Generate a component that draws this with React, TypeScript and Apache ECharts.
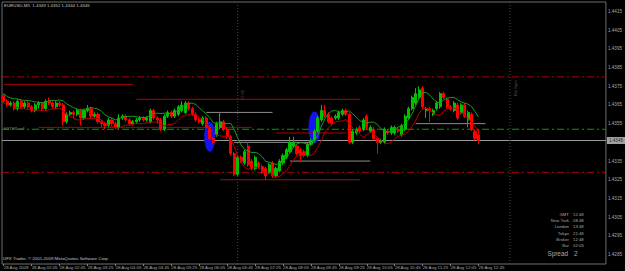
import React, { useEffect, useRef } from "react";
import * as echarts from "echarts";

const symbolTitle = "EURUSD,M5  1.4349 1.4352 1.4344 1.4346";
const copyright = "UFX Trader, © 2001-2009 MetaQuotes Software Corp.";

const tickLabels = [
  "28 Aug 2009", "28 Aug 02:05", "28 Aug 02:45", "28 Aug 03:25", "28 Aug 04:05",
  "28 Aug 04:45", "28 Aug 05:25", "28 Aug 06:05", "28 Aug 06:45", "28 Aug 07:25",
  "28 Aug 08:05", "28 Aug 08:45", "28 Aug 09:25", "28 Aug 10:05", "28 Aug 10:45",
  "28 Aug 11:25", "28 Aug 12:05", "28 Aug 12:45",
];

const firstBarMinutes = 85; // 01:25
const barMinutes = 5;
const slotCount = 173; // visible bar slots including the empty right shift

const open = [
  1.4370, 1.4367, 1.4365, 1.4366, 1.4363, 1.4367, 1.4364, 1.4366, 1.4364, 1.4362,
  1.4365, 1.4366, 1.4363, 1.4367, 1.4366, 1.4364, 1.4366, 1.4365, 1.4356, 1.4360,
  1.4361, 1.4360, 1.4362, 1.4358, 1.4362, 1.4363, 1.4359, 1.4360, 1.4356, 1.4355,
  1.4354, 1.4357, 1.4355, 1.4353, 1.4358, 1.4359, 1.4357, 1.4355, 1.4356, 1.4357,
  1.4358, 1.4357, 1.4356, 1.4362, 1.4358, 1.4357, 1.4352, 1.4359, 1.4361, 1.4359,
  1.4360, 1.4362, 1.4361, 1.4366, 1.4363, 1.4360, 1.4357, 1.4355, 1.4358, 1.4353,
  1.4347, 1.4349, 1.4353, 1.4356, 1.4352, 1.4348, 1.4339, 1.4328, 1.4337, 1.4334,
  1.4343, 1.4335, 1.4331, 1.4334, 1.4332, 1.4331, 1.4329, 1.4334, 1.4327, 1.4330,
  1.4334, 1.4337, 1.4340, 1.4343, 1.4343, 1.4341, 1.4340, 1.4338, 1.4344, 1.4346,
  1.4351, 1.4357, 1.4362, 1.4360, 1.4358, 1.4358, 1.4358, 1.4360, 1.4362, 1.4360,
  1.4345, 1.4350, 1.4353, 1.4352, 1.4359, 1.4351, 1.4352, 1.4347, 1.4345, 1.4345,
  1.4351, 1.4350, 1.4350, 1.4352, 1.4349, 1.4352, 1.4358, 1.4363, 1.4366, 1.4369,
  1.4374, 1.4362, 1.4363, 1.4360, 1.4363, 1.4364, 1.4371, 1.4368, 1.4364, 1.4362,
  1.4365, 1.4361, 1.4365, 1.4357, 1.4360, 1.4351, 1.4349,
];
const close = [
  1.4367, 1.4365, 1.4366, 1.4363, 1.4367, 1.4364, 1.4366, 1.4364, 1.4362, 1.4365,
  1.4366, 1.4363, 1.4367, 1.4366, 1.4364, 1.4366, 1.4365, 1.4356, 1.4360, 1.4361,
  1.4360, 1.4362, 1.4358, 1.4362, 1.4363, 1.4359, 1.4360, 1.4356, 1.4355, 1.4354,
  1.4357, 1.4355, 1.4353, 1.4358, 1.4359, 1.4357, 1.4355, 1.4356, 1.4357, 1.4358,
  1.4357, 1.4358, 1.4362, 1.4358, 1.4357, 1.4352, 1.4359, 1.4361, 1.4359, 1.4362,
  1.4364, 1.4365, 1.4366, 1.4363, 1.4360, 1.4357, 1.4356, 1.4358, 1.4353, 1.4347,
  1.4345, 1.4355, 1.4356, 1.4352, 1.4348, 1.4339, 1.4328, 1.4337, 1.4335, 1.4340,
  1.4333, 1.4331, 1.4337, 1.4332, 1.4329, 1.4327, 1.4333, 1.4327, 1.4331, 1.4335,
  1.4338, 1.4341, 1.4345, 1.4345, 1.4339, 1.4338, 1.4338, 1.4344, 1.4346, 1.4351,
  1.4358, 1.4362, 1.4359, 1.4356, 1.4355, 1.4359, 1.4361, 1.4362, 1.4360, 1.4345,
  1.4351, 1.4352, 1.4351, 1.4357, 1.4353, 1.4353, 1.4347, 1.4345, 1.4346, 1.4352,
  1.4350, 1.4353, 1.4353, 1.4351, 1.4354, 1.4359, 1.4363, 1.4369, 1.4371, 1.4373,
  1.4364, 1.4363, 1.4362, 1.4362, 1.4366, 1.4371, 1.4369, 1.4364, 1.4363, 1.4366,
  1.4358, 1.4365, 1.4359, 1.4361, 1.4352, 1.4347, 1.4346,
];
const high = [
  1.4371, 1.4368, 1.4367, 1.4367, 1.4368, 1.4368, 1.4367, 1.4367, 1.4365, 1.4366,
  1.4367, 1.4366, 1.4368, 1.4369, 1.4367, 1.4367, 1.4367, 1.4366, 1.4361, 1.4362,
  1.4362, 1.4363, 1.4363, 1.4363, 1.4365, 1.4364, 1.4361, 1.4361, 1.4357, 1.4356,
  1.4358, 1.4358, 1.4356, 1.4360, 1.4360, 1.4360, 1.4358, 1.4357, 1.4358, 1.4359,
  1.4359, 1.4359, 1.4363, 1.4363, 1.4359, 1.4358, 1.4360, 1.4362, 1.4362, 1.4363,
  1.4365, 1.4367, 1.4367, 1.4367, 1.4364, 1.4361, 1.4358, 1.4359, 1.4359, 1.4354,
  1.4348, 1.4356, 1.4361, 1.4357, 1.4353, 1.4349, 1.4340, 1.4338, 1.4338, 1.4341,
  1.4345, 1.4336, 1.4338, 1.4335, 1.4333, 1.4332, 1.4334, 1.4335, 1.4332, 1.4336,
  1.4339, 1.4342, 1.4348, 1.4348, 1.4344, 1.4342, 1.4341, 1.4345, 1.4347, 1.4352,
  1.4359, 1.4365, 1.4365, 1.4361, 1.4359, 1.4360, 1.4362, 1.4363, 1.4363, 1.4361,
  1.4352, 1.4353, 1.4354, 1.4358, 1.4360, 1.4354, 1.4353, 1.4348, 1.4347, 1.4353,
  1.4352, 1.4354, 1.4354, 1.4353, 1.4355, 1.4360, 1.4364, 1.4370, 1.4374, 1.4375,
  1.4375, 1.4364, 1.4364, 1.4363, 1.4367, 1.4372, 1.4372, 1.4369, 1.4365, 1.4367,
  1.4366, 1.4366, 1.4366, 1.4362, 1.4361, 1.4352, 1.4352,
];
const low = [
  1.4366, 1.4364, 1.4364, 1.4362, 1.4362, 1.4363, 1.4363, 1.4363, 1.4361, 1.4361,
  1.4363, 1.4362, 1.4362, 1.4365, 1.4363, 1.4363, 1.4364, 1.4354, 1.4355, 1.4359,
  1.4358, 1.4359, 1.4354, 1.4357, 1.4361, 1.4358, 1.4358, 1.4355, 1.4353, 1.4352,
  1.4353, 1.4354, 1.4352, 1.4352, 1.4357, 1.4356, 1.4354, 1.4354, 1.4355, 1.4356,
  1.4356, 1.4356, 1.4355, 1.4357, 1.4355, 1.4351, 1.4351, 1.4358, 1.4358, 1.4358,
  1.4359, 1.4361, 1.4360, 1.4362, 1.4359, 1.4356, 1.4355, 1.4354, 1.4352, 1.4346,
  1.4344, 1.4348, 1.4352, 1.4351, 1.4347, 1.4338, 1.4327, 1.4327, 1.4334, 1.4333,
  1.4332, 1.4330, 1.4330, 1.4331, 1.4328, 1.4325, 1.4328, 1.4326, 1.4326, 1.4329,
  1.4333, 1.4336, 1.4339, 1.4342, 1.4338, 1.4335, 1.4337, 1.4337, 1.4343, 1.4345,
  1.4350, 1.4356, 1.4358, 1.4355, 1.4354, 1.4357, 1.4357, 1.4359, 1.4359, 1.4344,
  1.4344, 1.4349, 1.4350, 1.4351, 1.4352, 1.4350, 1.4346, 1.4339, 1.4344, 1.4344,
  1.4349, 1.4349, 1.4349, 1.4350, 1.4348, 1.4351, 1.4357, 1.4362, 1.4365, 1.4368,
  1.4363, 1.4358, 1.4356, 1.4359, 1.4362, 1.4363, 1.4368, 1.4363, 1.4362, 1.4361,
  1.4357, 1.4360, 1.4358, 1.4353, 1.4351, 1.4346, 1.4344,
];

const maPeriod = 5;
const bidPrice = 1.4346;
const redDashLevels = [1.438, 1.4329];
const greenDashLevel = 1.4352;

// trend-line segments drawn on the chart (bar index from/to, price)
const redSegFrom = [0, 38, 10, 78, 62];
const redSegTo = [37, 102, 71, 98, 102];
const redSegPrice = [1.4376, 1.4368, 1.4353, 1.435, 1.4325];
const greySegFrom = [58, 82, 118, 66];
const greySegTo = [77, 105, 138, 88];
const greySegPrice = [1.4361, 1.4335, 1.4355, 1.4345];

// highlighted ellipses (bar index, price)
const markBars = [59, 89];
const markPrices = [1.4348, 1.4353];

// vertical lines (bar index)
const vLineBars = [67, 145];
const vLineTexts = ["07:00", "My Sym"];

const infoLabels = ["GMT", "New York", "London", "Tokyo", "Broker", "Bar"];
const infoValues = ["12:48", "08:48", "13:48", "21:48", "12:48", "02:03"];
const spreadLabel = "Spread";
const spreadValue = "2";

const Y_MIN = 1.428;
const Y_MAX = 1.442;

function pad(n: number) {
  return n < 10 ? "0" + n : String(n);
}

function sma(src: number[], n: number) {
  return src.map((_, i) => {
    const s = Math.max(0, i - n + 1);
    let sum = 0;
    for (let k = s; k <= i; k++) sum += src[k];
    return +(sum / (i - s + 1)).toFixed(5);
  });
}

export default function App() {
  const ref = useRef<HTMLDivElement>(null);
  useEffect(() => {
    if (!ref.current) return;
    const chart = echarts.init(ref.current, null, { renderer: "svg" });

    const categories: string[] = [];
    for (let k = 0; k < slotCount; k++) {
      const t = firstBarMinutes + k * barMinutes;
      categories.push("28 Aug " + pad(Math.floor(t / 60) % 24) + ":" + pad(t % 60));
    }
    const candles = open.map((o, i) => [o, close[i], low[i], high[i]]);
    const maHigh = sma(high, maPeriod);
    const maLow = sma(low, maPeriod);
    const lastIdx = open.length - 1;

    const font = "'Liberation Sans', Arial, sans-serif";
    const grey = "#a8a8a8";

    const hLine = (p: number, color: string, type: any) => ({
      type: "line",
      xAxisIndex: 1,
      data: [[0, p], [1, p]],
      showSymbol: false,
      symbol: "none",
      lineStyle: { color, width: 1, type },
      z: 1,
      silent: true,
    });

    const segSeries: any[] = [];
    redSegFrom.forEach((f, i) => {
      segSeries.push({
        type: "line",
        data: [[f, redSegPrice[i]], [redSegTo[i], redSegPrice[i]]],
        showSymbol: false,
        symbol: "none",
        lineStyle: { color: i === 4 ? "#7c2020" : "#b00000", width: 1 },
        z: 2,
        silent: true,
      });
    });
    greySegFrom.forEach((f, i) => {
      segSeries.push({
        type: "line",
        data: [[f, greySegPrice[i]], [greySegTo[i], greySegPrice[i]]],
        showSymbol: false,
        symbol: "none",
        lineStyle: { color: "#8c8c8c", width: 1 },
        z: 2,
        silent: true,
      });
    });
    vLineBars.forEach((b) => {
      segSeries.push({
        type: "line",
        data: [[b, Y_MIN], [b, Y_MAX]],
        showSymbol: false,
        symbol: "none",
        lineStyle: { color: "#4a4a4a", width: 1, type: [1, 2] },
        z: 1,
        silent: true,
      });
    });

    const infoGraphics: any[] = [];
    infoLabels.forEach((l, i) => {
      const y = 214 + i * 6.35;
      infoGraphics.push({
        type: "text",
        x: 569,
        y,
        style: { text: l, fill: grey, fontSize: 4.3, fontFamily: font, align: "right", verticalAlign: "middle" },
      });
      infoGraphics.push({
        type: "text",
        x: 573,
        y,
        style: { text: infoValues[i], fill: grey, fontSize: 4.3, fontFamily: font, align: "left", verticalAlign: "middle" },
      });
    });

    const option: any = {
      animation: false,
      backgroundColor: "#000000",
      textStyle: { fontFamily: font },
      grid: {
        left: 2,
        right: 17,
        top: 2,
        bottom: 7,
        show: true,
        borderColor: "#6e6e6e",
        borderWidth: 1,
        backgroundColor: "transparent",
      },
      xAxis: [
        {
          type: "category",
          data: categories,
          boundaryGap: true,
          axisLine: { show: false },
          splitLine: { show: false },
          axisTick: {
            show: true,
            alignWithLabel: true,
            length: 2,
            interval: (idx: number) => idx % 8 === 0 && idx <= lastIdx,
            lineStyle: { color: "#808080" },
          },
          axisLabel: {
            interval: (idx: number) => idx % 8 === 0 && idx <= lastIdx,
            formatter: (_v: string, idx: number) => tickLabels[idx / 8] || "",
            align: "left",
            margin: 1.5,
            fontSize: 4.4,
            color: grey,
            fontFamily: font,
          },
        },
        {
          type: "value",
          min: 0,
          max: 1,
          show: false,
        },
      ],
      yAxis: {
        type: "value",
        position: "right",
        min: Y_MIN,
        max: Y_MAX,
        interval: 0.0005,
        axisLine: { show: false },
        axisTick: { show: false },
        splitLine: { show: false },
        axisLabel: {
          margin: 2,
          fontSize: 4.6,
          color: grey,
          fontFamily: font,
          formatter: (v: number) =>
            Math.round(v * 10000) % 10 === 5 && Math.abs(v - bidPrice) > 0.0004 ? v.toFixed(4) : "",
        },
      },
      series: [
        {
          type: "scatter",
          data: markBars.map((b, i) => [b, markPrices[i]]),
          symbol: "circle",
          symbolSize: (_v: any, p: any) => (p.dataIndex === 0 ? [11, 30] : [12, 32]),
          itemStyle: { color: "#1414f0", opacity: 1 },
          z: 1,
          silent: true,
        },
        ...redDashLevels.map((p) => hLine(p, "#b00000", [7, 3, 2, 3])),
        hLine(greenDashLevel, "#00a000", [7, 3, 2, 3]),
        hLine(bidPrice, "#9a9a9a", "solid"),
        {
          type: "scatter",
          xAxisIndex: 1,
          data: [[1, bidPrice]],
          symbolSize: 0,
          silent: true,
          z: 6,
          label: {
            show: true,
            position: "right",
            distance: 1,
            formatter: bidPrice.toFixed(4),
            backgroundColor: "#c8c8c8",
            color: "#000000",
            fontSize: 4.6,
            padding: [1, 2],
            fontFamily: font,
          },
        },
        ...segSeries,
        {
          type: "candlestick",
          data: candles,
          barWidth: 2.6,
          itemStyle: {
            color: "#00c000",
            color0: "#ff0000",
            borderColor: "#00c000",
            borderColor0: "#ff0000",
            borderWidth: 1,
          },
          z: 3,
        },
        {
          type: "line",
          data: maHigh,
          showSymbol: false,
          symbol: "none",
          lineStyle: { color: "#1c9a1c", width: 1 },
          z: 4,
          silent: true,
        },
        {
          type: "line",
          data: maLow,
          showSymbol: false,
          symbol: "none",
          lineStyle: { color: "#b80000", width: 1 },
          z: 4,
          silent: true,
        },
      ],
      graphic: [
        {
          type: "text",
          x: 4,
          y: 5,
          style: { text: symbolTitle, fill: "#c4c4c4", fontSize: 4.4, fontFamily: font, verticalAlign: "middle" },
        },
        {
          type: "text",
          x: 3,
          y: 258,
          style: { text: copyright, fill: "#c4c4c4", fontSize: 4.4, fontFamily: font, verticalAlign: "middle" },
        },
        {
          type: "text",
          x: 4,
          y: 128,
          style: { text: "ESTER sell", fill: "#8a8a8a", fontSize: 4, fontFamily: font, verticalAlign: "middle" },
        },
        {
          type: "text",
          x: 242,
          y: 100,
          rotation: Math.PI / 2,
          style: { text: vLineTexts[0], fill: "#5a5a5a", fontSize: 4, fontFamily: font, verticalAlign: "middle" },
        },
        {
          type: "text",
          x: 515,
          y: 96,
          rotation: Math.PI / 2,
          style: { text: vLineTexts[1], fill: "#5a5a5a", fontSize: 4.4, fontFamily: font, verticalAlign: "middle" },
        },
        ...infoGraphics,
        {
          type: "text",
          x: 568,
          y: 253.5,
          style: { text: spreadLabel, fill: grey, fontSize: 6.4, fontFamily: font, align: "right", verticalAlign: "middle" },
        },
        {
          type: "text",
          x: 574,
          y: 253.5,
          style: { text: spreadValue, fill: grey, fontSize: 6.4, fontFamily: font, align: "left", verticalAlign: "middle" },
        },
      ],
    };
    chart.setOption(option);
    return () => chart.dispose();
  }, []);
  return (
    <div
      ref={ref}
      style={{ position: "fixed", left: 0, top: 0, width: 625, height: 271, background: "#000" }}
    />
  );
}
